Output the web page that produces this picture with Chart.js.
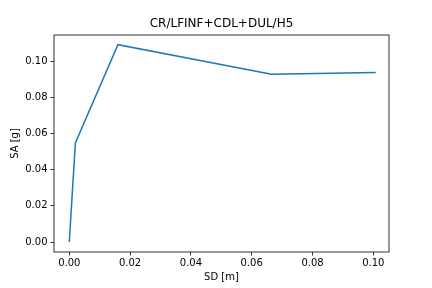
<!DOCTYPE html>
<html>
<head>
<meta charset="utf-8">
<script src="https://cdn.jsdelivr.net/npm/chart.js@4/dist/chart.umd.min.js"></script>
<style>
  html, body { margin: 0; padding: 0; background: #fff; }
  #wrap { width: 432px; height: 288px; }
</style>
</head>
<body>
<div id="wrap"><canvas id="graphique"></canvas></div>
<script>
// pushover curve values
var sdValues = [0.0, 0.002, 0.016, 0.0665, 0.1008];
var saValues = [0.0, 0.0548, 0.1092, 0.0928, 0.0938];
var xTicks = [0.00, 0.02, 0.04, 0.06, 0.08, 0.10];
var yTicks = [0.00, 0.02, 0.04, 0.06, 0.08, 0.10];
var titre = 'CR/LFINF+CDL+DUL/H5';

var couleurLigne = '#1f77b4';
var police = "'DejaVu Sans', sans-serif";

// cadre complet autour de la zone du graphique + titre centré sur les axes
var cadrePlugin = {
    id: 'cadre',
    afterDraw: function (chart) {
        var ctx = chart.ctx;
        var a = chart.chartArea;
        ctx.save();
        ctx.strokeStyle = '#000';
        ctx.lineWidth = 0.8;
        ctx.strokeRect(a.left, a.top, a.right - a.left, a.bottom - a.top);
        ctx.fillStyle = '#000';
        ctx.font = '12px ' + police;
        ctx.textAlign = 'center';
        ctx.textBaseline = 'middle';
        ctx.fillText(titre, (a.left + a.right) / 2, 24);
        ctx.restore();
    }
};

var points = [];
for (var i = 0; i < sdValues.length; i++) {
    points.push({ x: sdValues[i], y: saValues[i] });
}

Chart.defaults.font.family = police;
Chart.defaults.font.size = 10;
Chart.defaults.color = '#000';

var ctx = document.getElementById('graphique').getContext('2d');
var chart = new Chart(ctx, {
    type: 'scatter',
    data: {
        datasets: [{
            data: points,
            showLine: true,
            borderColor: couleurLigne,
            backgroundColor: couleurLigne,
            borderWidth: 1.5,
            pointRadius: 0,
            tension: 0
        }]
    },
    plugins: [cadrePlugin],
    options: {
        responsive: true,
        maintainAspectRatio: false,
        animation: false,
        layout: { padding: { top: 35, right: 43, left: 0, bottom: 0 } },
        plugins: {
            legend: { display: false },
            title: { display: false },
            tooltip: { enabled: false }
        },
        scales: {
            x: {
                type: 'linear',
                min: -0.00503,
                max: 0.10516,
                afterBuildTicks: function (s) { s.ticks = xTicks.map(function (v) { return { value: v }; }); },
                afterFit: function (s) { s.height = 36; },
                border: { display: false },
                grid: { drawOnChartArea: false, drawTicks: true, tickLength: 3.5, tickColor: '#000', lineWidth: 0.8 },
                ticks: { padding: 2, maxRotation: 0, callback: function (v) { return v.toFixed(2); } },
                title: { display: true, text: 'SD [m]', padding: { top: 0, bottom: 5 } }
            },
            y: {
                type: 'linear',
                min: -0.00553,
                max: 0.11456,
                afterBuildTicks: function (s) { s.ticks = yTicks.map(function (v) { return { value: v }; }); },
                afterFit: function (s) { s.width = 54; },
                border: { display: false },
                grid: { drawOnChartArea: false, drawTicks: true, tickLength: 3.5, tickColor: '#000', lineWidth: 0.8 },
                ticks: { padding: 3, callback: function (v) { return v.toFixed(2); } },
                title: { display: true, text: 'SA [g]', padding: { top: 9, bottom: 0 } }
            }
        }
    }
});
</script>
</body>
</html>
